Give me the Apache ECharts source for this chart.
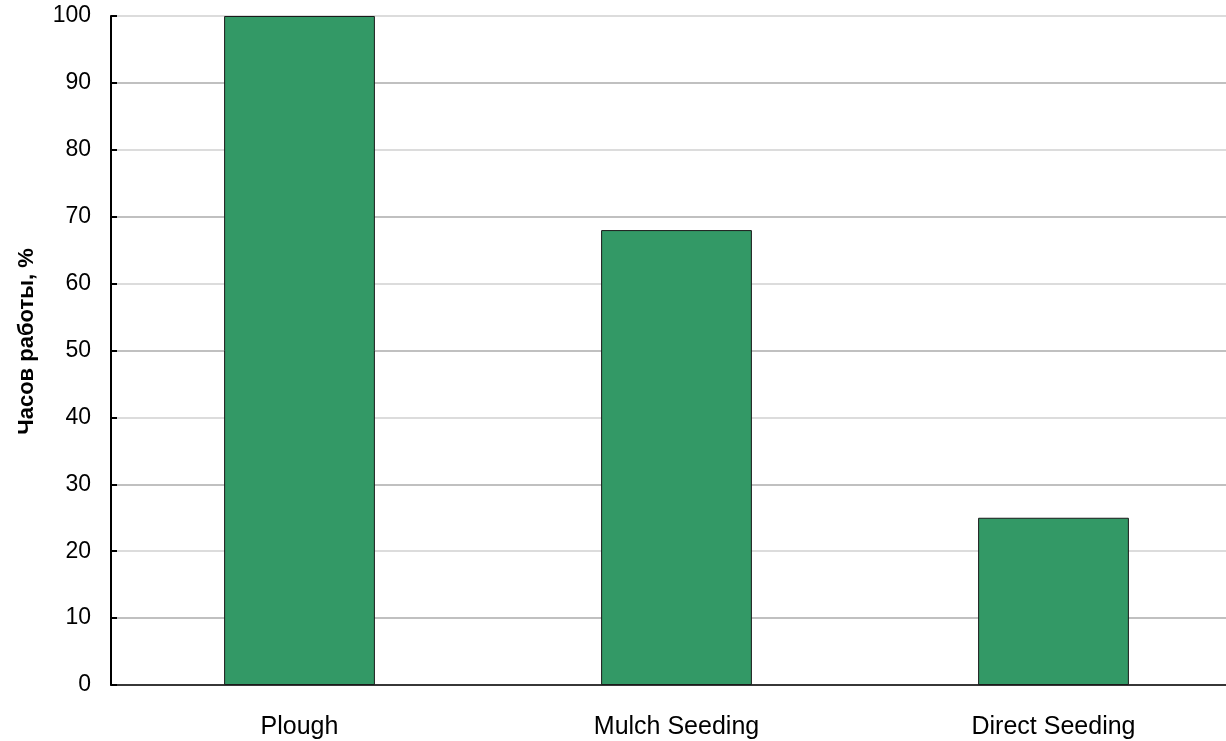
<!DOCTYPE html>
<html>
<head>
<meta charset="utf-8">
<script src="https://cdn.jsdelivr.net/npm/echarts@6/dist/echarts.min.js"></script>
<style>
html,body{margin:0;padding:0;background:#fff;overflow:hidden;width:1226px;height:741px;}
#chart{width:1242px;height:741px;}
</style>
</head>
<body>
<div id="chart"></div>
<script>
const categories = ['Plough', 'Mulch Seeding', 'Direct Seeding'];
const values = [100, 68, 25];
const yAxisTitle = 'Часов работы, %';

const chart = echarts.init(document.getElementById('chart'), null, {renderer: 'canvas'});
chart.setOption({
  animation: false,
  backgroundColor: '#ffffff',
  textStyle: {fontFamily: 'Liberation Sans, Arial, sans-serif'},
  grid: {left: 111, top: 16, right: 0, bottom: 56, containLabel: false},
  xAxis: {
    type: 'category',
    data: categories,
    axisLine: {lineStyle: {color: '#000', width: 1.5}},
    axisTick: {show: false},
    axisLabel: {color: '#000', fontSize: 25, margin: 30, fontFamily: 'Liberation Sans, Arial, sans-serif'}
  },
  yAxis: {
    type: 'value',
    min: 0,
    max: 100,
    interval: 10,
    name: yAxisTitle,
    nameLocation: 'middle',
    nameGap: 73,
    nameTextStyle: {color: '#000', fontSize: 22, fontWeight: 'bold', fontFamily: 'Liberation Sans, Arial, sans-serif', padding: [0, 0, 0, 18]},
    axisLine: {show: true, lineStyle: {color: '#000', width: 2}},
    axisTick: {show: true, inside: true, length: 6, lineStyle: {color: '#000', width: 2}},
    axisLabel: {color: '#000', fontSize: 23, margin: 20, fontFamily: 'Liberation Sans, Arial, sans-serif'},
    splitLine: {show: true, lineStyle: {color: ['#dcdcdc', '#c0c0c0'], width: 2}}
  },
  series: [{
    type: 'bar',
    data: values,
    barWidth: '40%',
    itemStyle: {color: '#339966', borderColor: '#1a1a1a', borderWidth: 1}
  }]
});
</script>
</body>
</html>
